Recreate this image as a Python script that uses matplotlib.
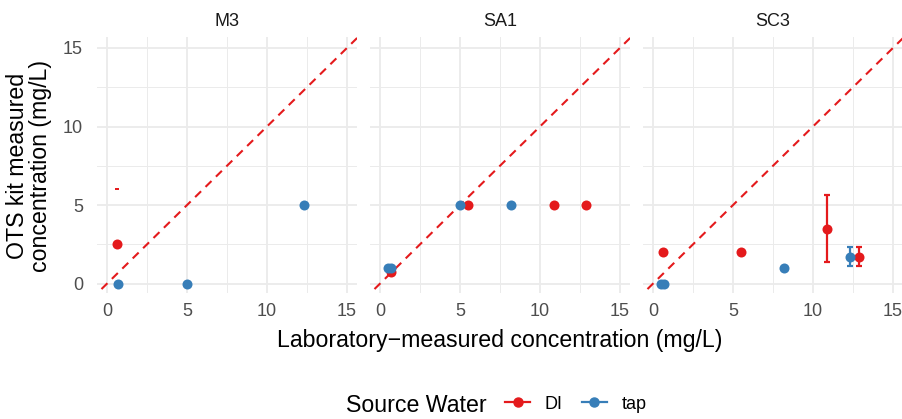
import matplotlib.pyplot as plt
from matplotlib.lines import Line2D

plt.rcParams['font.family'] = ['Liberation Sans', 'DejaVu Sans']

panels = ['M3', 'SA1', 'SC3']
red = '#E41A1C'
blue = '#377EB8'

# per panel: lab value, kit value and error bar range for DI and tap
di_lab = {'M3': [0.6], 'SA1': [0.7, 5.5, 10.9, 12.9], 'SC3': [0.6, 5.5, 10.9, 12.9]}
di_kit = {'M3': [2.5], 'SA1': [0.75, 5.0, 5.0, 5.0], 'SC3': [2.0, 2.0, 3.5, 1.7]}
di_lo = {'M3': [2.5], 'SA1': [0.75, 5.0, 5.0, 5.0], 'SC3': [2.0, 2.0, 1.35, 1.1]}
di_hi = {'M3': [2.5], 'SA1': [0.75, 5.0, 5.0, 5.0], 'SC3': [2.0, 2.0, 5.65, 2.3]}

tap_lab = {'M3': [0.7, 5.0, 12.3], 'SA1': [0.5, 0.7, 5.0, 8.2], 'SC3': [0.5, 0.7, 8.2, 12.3]}
tap_kit = {'M3': [0.0, 0.0, 5.0], 'SA1': [1.0, 1.0, 5.0, 5.0], 'SC3': [0.0, 0.0, 1.0, 1.7]}
tap_lo = {'M3': [0.0, 0.0, 5.0], 'SA1': [1.0, 1.0, 5.0, 5.0], 'SC3': [0.0, 0.0, 1.0, 1.1]}
tap_hi = {'M3': [0.0, 0.0, 5.0], 'SA1': [1.0, 1.0, 5.0, 5.0], 'SC3': [0.0, 0.0, 1.0, 2.3]}

# stray error bar in M3 with no point
m3_stray_x = 0.6
m3_stray_y = 6.05

fig = plt.figure(figsize=(9.03, 4.19), dpi=100)
lefts = [97, 370, 643]
for name, left in zip(panels, lefts):
    ax = fig.add_axes([left / 903, 1 - 293 / 419, 260 / 903, 256 / 419])
    ax.set_xlim(-0.63, 15.63)
    ax.set_ylim(-0.6, 15.7)
    ax.set_xticks([0, 5, 10, 15])
    ax.set_yticks([0, 5, 10, 15])
    ax.set_xticks([2.5, 7.5, 12.5], minor=True)
    ax.set_yticks([2.5, 7.5, 12.5], minor=True)
    ax.grid(True, which='major', color='#EBEBEB', linewidth=1.3)
    ax.grid(True, which='minor', color='#EBEBEB', linewidth=0.7)
    ax.set_axisbelow(True)
    for s in ax.spines.values():
        s.set_visible(False)
    ax.tick_params(which='both', length=0, labelsize=13, colors='#4D4D4D')
    ax.tick_params(axis='x', pad=7)
    ax.tick_params(axis='y', pad=10)
    if name != 'M3':
        ax.set_yticklabels([])
    ax.set_title(name, fontsize=13, color='#1A1A1A', pad=8)

    ax.plot([-1, 16], [-1, 16], color=red, linestyle=(0, (4, 3)), linewidth=1.5, zorder=1)

    for xs, ys, lo, hi, c in [(di_lab[name], di_kit[name], di_lo[name], di_hi[name], red),
                              (tap_lab[name], tap_kit[name], tap_lo[name], tap_hi[name], blue)]:
        ye = [[y - l for y, l in zip(ys, lo)], [h - y for y, h in zip(ys, hi)]]
        ax.errorbar(xs, ys, yerr=ye, fmt='none', ecolor=c, elinewidth=1.6,
                    capsize=2, capthick=1.6, zorder=2)
        ax.scatter(xs, ys, s=52, color=c, zorder=3, linewidths=0)

    if name == 'M3':
        ax.errorbar([m3_stray_x], [m3_stray_y], yerr=[[0], [0]], fmt='none',
                    ecolor=red, capsize=1.5, capthick=1.3)

fig.text(500 / 903, 1 - 340 / 419, 'Laboratory\u2212measured concentration (mg/L)',
         ha='center', va='center', fontsize=16.7, color='black')
fig.text(29 / 903, 1 - 166 / 419, 'OTS kit measured\nconcentration (mg/L)',
         ha='center', va='center', rotation=90, fontsize=16.7, color='black',
         linespacing=1.0)

fig.text(487 / 903, 1 - 405 / 419, 'Source Water', ha='right', va='center',
         fontsize=16.7, color='black')
handles = [Line2D([0], [0], color=red, marker='o', markersize=6.5, linewidth=1.6),
           Line2D([0], [0], color=blue, marker='o', markersize=6.5, linewidth=1.6)]
fig.legend(handles, ['DI', 'tap'], loc='center left',
           bbox_to_anchor=(505 / 903, 1 - 404 / 419), ncol=2, frameon=False,
           fontsize=13, handlelength=1.4, handletextpad=0.8, columnspacing=1.05,
           borderpad=0, borderaxespad=0)

fig.savefig('out.png', dpi=100)
